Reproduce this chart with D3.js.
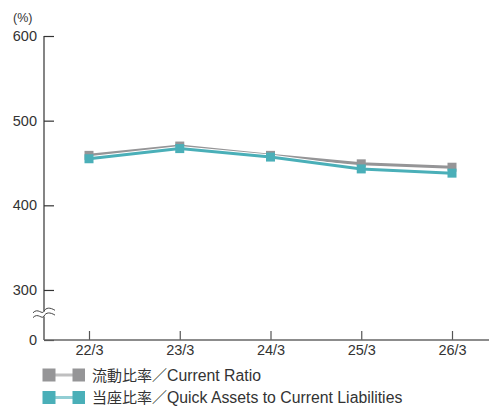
<!DOCTYPE html>
<html><head><meta charset="utf-8">
<script src="https://cdn.jsdelivr.net/npm/d3@7"></script>
<style>
html,body{margin:0;padding:0;background:#fff;}
svg{display:block;}
text{font-family:"Liberation Sans",Arial,sans-serif;fill:#333;}
.jp{font-family:"Noto Sans CJK JP",sans-serif;}
</style></head>
<body>
<svg id="c" width="489" height="407"></svg>
<script>
const categories = ["22/3","23/3","24/3","25/3","26/3"];
const currentRatio = [459, 470, 459, 449, 445];
const quickRatio = [455, 467, 457, 443, 438];
const yTicks = [0, 300, 400, 500, 600];
const seriesNamesJa = ["流動比率／", "当座比率／"];
const seriesNamesEn = ["Current Ratio", "Quick Assets to Current Liabilities"];
const seriesColors = ["#959597", "#4aafb8"];
const unitLabel = "(%)";

const svg = d3.select("#c");
const axisX0 = 44, axisY0 = 340;
const x = d3.scalePoint().domain(categories).range([89, 452]);
const y = d3.scaleLinear().domain([0, 250, 600]).range([340, 332.3, 36]);

// Y axis
const yAxis = d3.axisLeft(y).tickValues(yTicks).tickSize(-10).tickPadding(7).tickFormat(d3.format("d"));
const gy = svg.append("g").attr("transform", `translate(${axisX0},0)`).call(yAxis);
gy.select(".domain").remove();
gy.selectAll(".tick line").attr("stroke", "#333").attr("stroke-width", 1.2);
gy.selectAll(".tick text").style("font-size", "14.5px").attr("fill", "#333");
svg.append("line").attr("x1", axisX0).attr("x2", axisX0).attr("y1", y(600)).attr("y2", axisY0)
  .attr("stroke", "#333").attr("stroke-width", 1.2);

// X axis
const xAxis = d3.axisBottom(x).tickSize(-9).tickPadding(5);
const gx = svg.append("g").attr("transform", `translate(0,${axisY0})`).call(xAxis);
gx.select(".domain").remove();
gx.selectAll(".tick line").attr("stroke", "#555").attr("stroke-width", 1.2);
gx.selectAll(".tick text").style("font-size", "14.5px").attr("fill", "#333");
svg.append("line").attr("x1", axisX0).attr("x2", 489).attr("y1", axisY0).attr("y2", axisY0)
  .attr("stroke", "#666").attr("stroke-width", 1.5);

// Axis break
const by = 313.5;
svg.append("rect").attr("x", axisX0 - 2).attr("y", by - 2).attr("width", 4).attr("height", 5).attr("fill", "#fff");
[-2.2, 2.6].forEach(off => {
  const yy = by + off;
  svg.append("path")
    .attr("d", `M${axisX0-11},${yy+1.5} C${axisX0-6},${yy-4} ${axisX0-2},${yy+4} ${axisX0},${yy} S${axisX0+6},${yy-4} ${axisX0+11},${yy-1}`)
    .attr("fill", "none").attr("stroke", "#444").attr("stroke-width", 1);
});

// unit
svg.append("text").attr("x", 13).attr("y", 22).style("font-size", "12.5px").text(unitLabel);

// Series
const allSeries = [currentRatio, quickRatio];
const line = d3.line().x((d, i) => x(categories[i])).y(d => y(d));
allSeries.forEach((vals, si) => {
  const g = svg.append("g");
  g.append("path").attr("d", line(vals)).attr("fill", "none").attr("stroke", "#fff").attr("stroke-width", 5);
  g.append("path").attr("d", line(vals)).attr("fill", "none").attr("stroke", seriesColors[si]).attr("stroke-width", 3);
  g.selectAll("rect").data(vals).join("rect")
    .attr("x", (d, i) => x(categories[i]) - 4.5).attr("y", d => y(d) - 4.5)
    .attr("width", 9).attr("height", 9).attr("fill", seriesColors[si]);
});

// Legend
const legY = [375, 397.5];
seriesNamesJa.forEach((name, i) => {
  const g = svg.append("g").attr("transform", `translate(0,${legY[i]})`);
  g.append("line").attr("x1", 55).attr("x2", 74).attr("y1", 0).attr("y2", 0)
    .attr("stroke", seriesColors[i]).attr("stroke-width", 3).attr("opacity", 0.6);
  g.append("rect").attr("x", 42.5).attr("y", -6.5).attr("width", 13).attr("height", 13).attr("fill", seriesColors[i]);
  g.append("rect").attr("x", 72.5).attr("y", -6.5).attr("width", 12.5).attr("height", 13).attr("fill", seriesColors[i]);
  const t = g.append("text").attr("x", 92).attr("y", 0).attr("dy", "0.36em");
  t.append("tspan").attr("class", "jp").style("font-size", "15px").text(name);
  t.append("tspan").style("font-size", "15.8px").text(seriesNamesEn[i]);
});
</script>
</body></html>
